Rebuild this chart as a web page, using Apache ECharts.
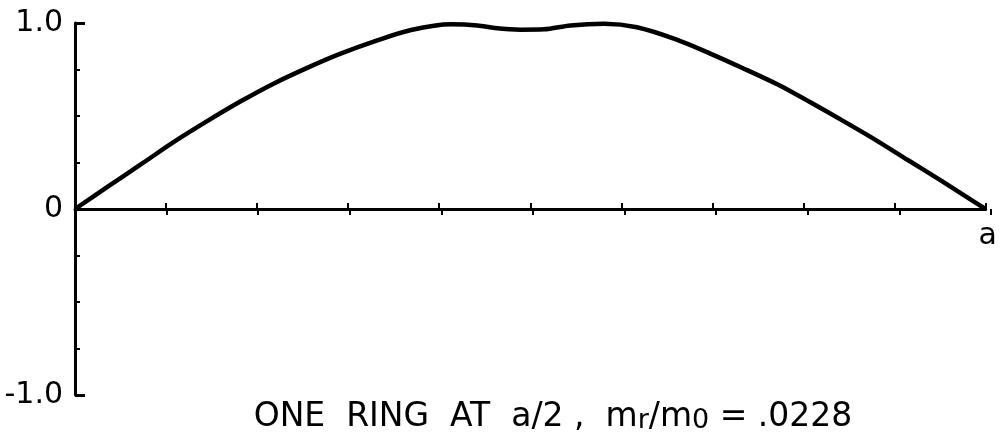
<!DOCTYPE html>
<html>
<head>
<meta charset="utf-8">
<script src="https://cdn.jsdelivr.net/npm/echarts@6/dist/echarts.min.js"></script>
<style>
	html, body { margin: 0; padding: 0; background: #fff; }
	#chart { width: 1000px; height: 439px; }
</style>
</head>
<body>
<div id="chart"></div>
<script>
// position along the span, as a fraction of a
const xPos = [0, 0.036, 0.073, 0.109, 0.146, 0.182, 0.218, 0.255, 0.291, 0.328, 0.369, 0.413, 0.442, 0.461, 0.489,
	0.515, 0.544, 0.581, 0.617, 0.66, 0.697, 0.733, 0.77, 0.806, 0.842, 0.879, 0.915, 0.952, 0.988, 1];
// normalised deflection
const yVal = [0, 0.12, 0.242, 0.362, 0.475, 0.579, 0.674, 0.759, 0.834, 0.9, 0.962, 0.993, 0.987, 0.973, 0.964,
	0.966, 0.987, 0.996, 0.977, 0.912, 0.837, 0.758, 0.673, 0.578, 0.478, 0.372, 0.262, 0.15, 0.037, 0];
const yLabels = { "-1": "-1.0", "0": "0", "1": "1.0" };
const xEndLabel = "a";

const font = "DejaVu Sans";
const ink = "#000";

const chart = echarts.init(document.getElementById("chart"));
const points = xPos.map((x, i) => [x, yVal[i]]);

const gridBox = { left: 75, right: 9, top: 23, bottom: 44 };

chart.setOption({
	animation: false,
	backgroundColor: "#fff",
	title: {
		left: 548,
		textAlign: "center",
		top: 392,
		text: "{t|ONE  RING  AT  a/2 ,  m}{s|r}{t|/m}{s|0}{t| = .0228}",
		textStyle: {
			rich: {
				t: { fontFamily: font, fontWeight: "normal", fontSize: 33, color: ink, verticalAlign: "bottom" },
				s: { fontFamily: font, fontWeight: "normal", fontSize: 27, color: ink, padding: [10, 0, 0, 0], verticalAlign: "bottom" }
			}
		}
	},
	grid: [gridBox, gridBox],
	xAxis: [
		{
			type: "value",
			gridIndex: 0,
			min: 0,
			max: 1,
			interval: 0.1,
			axisLine: { onZero: true, lineStyle: { color: ink, width: 3 } },
			axisTick: { inside: true, length: 6, lineStyle: { color: ink, width: 2 } },
			axisLabel: { show: false },
			name: xEndLabel,
			nameLocation: "end",
			nameGap: -7,
			nameTextStyle: {
				fontFamily: font,
				fontSize: 30,
				color: ink,
				verticalAlign: "top",
				padding: [12, 0, 0, 0]
			},
			splitLine: { show: false }
		},
		{
			// second copy of the axis, only to let the ticks cross the line
			type: "value",
			gridIndex: 1,
			min: 0,
			max: 1,
			interval: 0.1,
			axisLine: { show: false, onZero: true },
			axisTick: { inside: false, length: 6, lineStyle: { color: ink, width: 2 } },
			axisLabel: { show: false },
			splitLine: { show: false }
		}
	],
	yAxis: [
		{
			type: "value",
			gridIndex: 0,
			min: -1,
			max: 1,
			interval: 1,
			axisLine: { onZero: false, lineStyle: { color: ink, width: 3 } },
			axisTick: { inside: true, length: 10, lineStyle: { color: ink, width: 3 } },
			minorTick: { show: true, splitNumber: 4, length: 5, lineStyle: { color: ink, width: 2 } },
			axisLabel: {
				margin: 12,
				fontFamily: font,
				fontSize: 30,
				color: ink,
				formatter: v => yLabels[String(v)] ?? ""
			},
			splitLine: { show: false }
		},
		{
			type: "value",
			gridIndex: 1,
			min: -1,
			max: 1,
			axisLine: { show: false, onZero: false },
			axisTick: { show: false },
			axisLabel: { show: false },
			splitLine: { show: false }
		}
	],
	series: [
		{
			type: "line",
			data: points,
			smooth: 0.3,
			showSymbol: false,
			lineStyle: { color: ink, width: 4.5 }
		}
	]
});
</script>
</body>
</html>
